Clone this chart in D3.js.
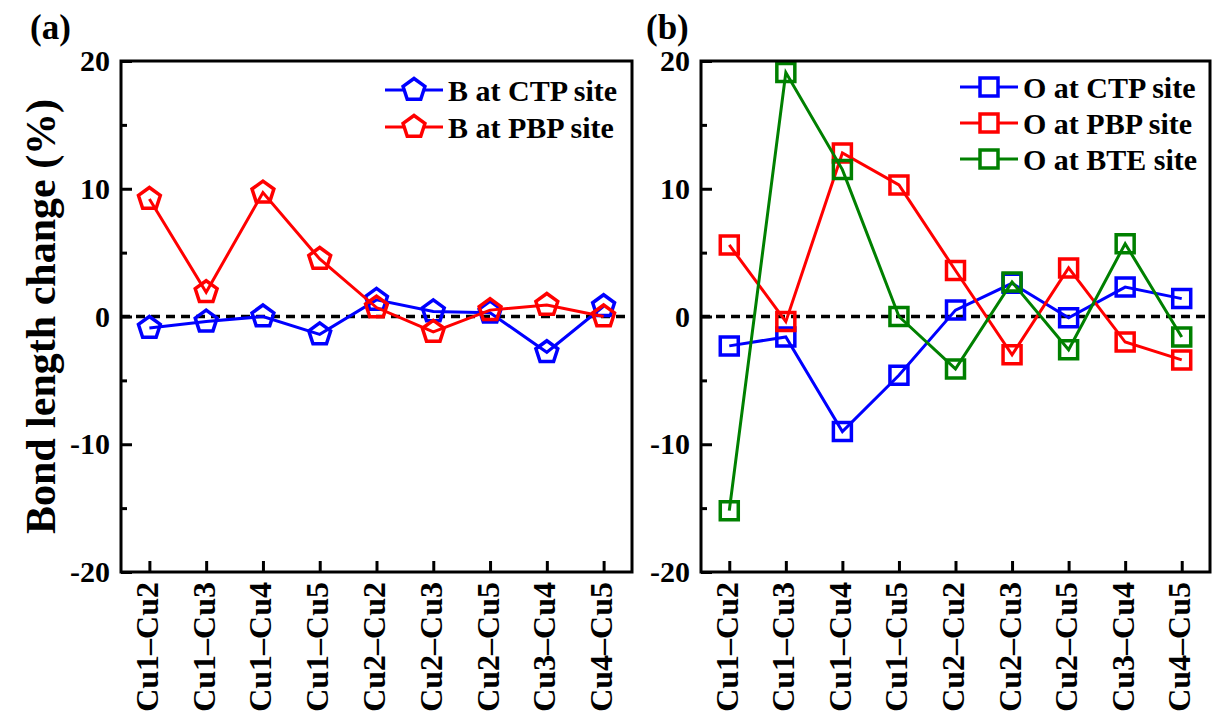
<!DOCTYPE html>
<html>
<head>
<meta charset="utf-8">
<script src="https://cdn.jsdelivr.net/npm/d3@7"></script>
<style>
body { margin: 0; background: #fff; }
svg { display: block; font-family: "Liberation Serif", "Times New Roman", serif; font-weight: bold; }
</style>
</head>
<body>
<svg width="1213" height="712"></svg>
<script>
// bond pairs on the x axis
let pairs = ["Cu1–Cu2", "Cu1–Cu3", "Cu1–Cu4", "Cu1–Cu5", "Cu2–Cu2", "Cu2–Cu3", "Cu2–Cu5", "Cu3–Cu4", "Cu4–Cu5"];

// panel (a), boron
let bCTP = [-0.9, -0.4, 0.0, -1.4, 1.3, 0.4, 0.3, -2.8, 0.8];
let bPBP = [9.2, 1.9, 9.7, 4.5, 0.7, -1.2, 0.5, 0.9, 0.0];

// panel (b), oxygen
let oCTP = [-2.3, -1.6, -9.0, -4.6, 0.5, 2.6, -0.1, 2.3, 1.4];
let oPBP = [5.6, -0.4, 12.8, 10.3, 3.6, -3.0, 3.8, -2.0, -3.4];
let oBTE = [-15.2, 19.1, 11.5, 0.0, -4.1, 2.7, -2.6, 5.7, -1.6];

let majorTicks = [-20, -10, 0, 10, 20];
let minorTicks = [-15, -5, 5, 15];

let plotTop = 61;
let plotBottom = 572;

let svg = d3.select('svg');

// regular pentagon, size = circumradius
let pentagon = {
    draw: function(ctx, r) {
        for (let i = 0; i < 5; i++) {
            let a = -Math.PI / 2 + i * 2 * Math.PI / 5;
            if (i == 0) ctx.moveTo(r * Math.cos(a), r * Math.sin(a));
            else ctx.lineTo(r * Math.cos(a), r * Math.sin(a));
        }
        ctx.closePath();
    }
};

let y = d3.scaleLinear().domain([-20, 20]).range([plotBottom, plotTop]);

function drawPanel(p) {
    let g = svg.append('g');
    let x = d3.scalePoint().domain(pairs).range([p.left, p.right]).padding(0.5);

    // y minor ticks
    let yMinor = g.append('g').attr('transform', 'translate(' + p.left + ',0)')
        .call(d3.axisLeft(y).tickValues(minorTicks).tickSize(-6).tickFormat(''));
    // y major ticks + labels
    let yMajor = g.append('g').attr('transform', 'translate(' + p.left + ',0)')
        .call(d3.axisLeft(y).tickValues(majorTicks).tickSize(-11).tickPadding(11).tickFormat(d => String(d)));
    // x ticks + rotated labels
    let xAx = g.append('g').attr('transform', 'translate(0,' + plotBottom + ')')
        .call(d3.axisBottom(x).tickSize(-11));

    [yMinor, yMajor, xAx].forEach(function(a) {
        a.attr('font-family', null).attr('font-size', null);
        a.select('.domain').remove();
        a.selectAll('line').attr('stroke', '#000').attr('stroke-width', 3);
        a.selectAll('text').attr('fill', '#000').attr('font-size', 30);
    });
    xAx.selectAll('text')
        .attr('y', 0).attr('x', -10).attr('dy', '0.25em')
        .attr('font-size', 32)
        .attr('text-anchor', 'end')
        .attr('transform', 'rotate(-90)');

    // zero line
    g.append('line')
        .attr('x1', p.left).attr('x2', p.right)
        .attr('y1', y(0)).attr('y2', y(0))
        .attr('stroke', '#000').attr('stroke-width', 3.5)
        .attr('stroke-dasharray', '9,6');

    let line = d3.line().x((d, i) => x(pairs[i])).y(d => y(d));
    let sym = d3.symbol().type(p.symbol).size(p.symSize);

    p.series.forEach(function(s) {
        g.append('path').datum(s.values)
            .attr('d', line)
            .attr('fill', 'none').attr('stroke', s.color).attr('stroke-width', 3);
        g.selectAll(null).data(s.values).enter().append('path')
            .attr('d', sym)
            .attr('transform', (d, i) => 'translate(' + x(pairs[i]) + ',' + y(d) + ')')
            .attr('fill', 'none').attr('stroke', s.color).attr('stroke-width', 3.5);
    });

    // frame
    g.append('rect')
        .attr('x', p.left).attr('y', plotTop)
        .attr('width', p.right - p.left).attr('height', plotBottom - plotTop)
        .attr('fill', 'none').attr('stroke', '#000').attr('stroke-width', 3);

    // legend
    p.series.forEach(function(s, i) {
        let ly = p.legendY[i];
        g.append('line')
            .attr('x1', p.legendX).attr('x2', p.legendX + 58)
            .attr('y1', ly).attr('y2', ly)
            .attr('stroke', s.color).attr('stroke-width', 3);
        g.append('path')
            .attr('d', sym)
            .attr('transform', 'translate(' + (p.legendX + 29) + ',' + ly + ')')
            .attr('fill', '#fff').attr('stroke', s.color).attr('stroke-width', 3.5);
        g.append('text')
            .attr('x', p.legendX + 63).attr('y', ly).attr('dy', '0.35em')
            .attr('font-size', 30)
            .text(s.name);
    });

    // panel tag
    svg.append('text')
        .attr('x', p.tagX).attr('y', 39)
        .attr('font-size', 35)
        .text(p.tag);
}

drawPanel({
    left: 121, right: 632, tag: '(a)', tagX: 30,
    symbol: pentagon, symSize: 11.5,
    legendX: 385, legendY: [90, 127],
    series: [
        {values: bCTP, color: '#0000ff', name: 'B at CTP site'},
        {values: bPBP, color: '#ff0000', name: 'B at PBP site'}
    ]
});

drawPanel({
    left: 701, right: 1210, tag: '(b)', tagX: 646,
    symbol: d3.symbolSquare, symSize: 18 * 18,
    legendX: 960, legendY: [87, 123, 159],
    series: [
        {values: oCTP, color: '#0000ff', name: 'O at CTP site'},
        {values: oPBP, color: '#ff0000', name: 'O at PBP site'},
        {values: oBTE, color: '#008000', name: 'O at BTE site'}
    ]
});

// shared y title
svg.append('text')
    .attr('transform', 'translate(55,' + ((plotTop + plotBottom) / 2) + ') rotate(-90)')
    .attr('text-anchor', 'middle')
    .attr('font-size', 42)
    .text('Bond length change (%)');
</script>
</body>
</html>
